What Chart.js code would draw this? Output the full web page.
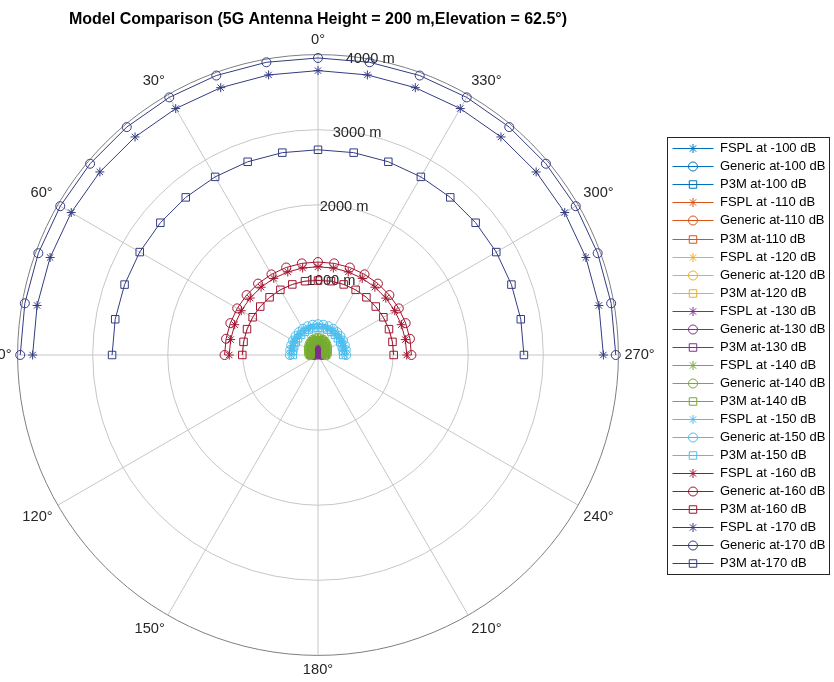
<!DOCTYPE html>
<html>
<head>
<meta charset="utf-8">
<title>Model Comparison</title>
<script src="https://cdn.jsdelivr.net/npm/chart.js"></script>
<style>
  html, body { margin: 0; padding: 0; background: #fff; overflow: hidden; }
  #wrap { position: relative; width: 834px; height: 682px; overflow: hidden; }
  /* canvas pushed left so the 90° label gets clipped like in the original */
  #polarChart { position: absolute; left: -60px; top: 0; }
</style>
</head>
<body>
<div id="wrap"><canvas id="polarChart" width="894" height="682"></canvas></div>
<script>
// angle categories, clockwise from the top (order the radial scale walks them)
const thetaDeg = [0, 350, 340, 330, 320, 310, 300, 290, 280, 270, 260, 250, 240, 230, 220, 210, 200, 190,
                  180, 170, 160, 150, 140, 130, 120, 110, 100, 90, 80, 70, 60, 50, 40, 30, 20, 10];
// azimuths that were computed (upper half only)
const sampleDeg = [90, 80, 70, 60, 50, 40, 30, 20, 10, 0, 350, 340, 330, 320, 310, 300, 290, 280, 270];

const levels = [-100, -110, -120, -130, -140, -150, -160, -170];
const levelColors = ['#0072BD', '#D95319', '#EDB120', '#7E2F8E', '#77AC30', '#4DBEEE', '#A2142F', '#343C82'];

// distance (m) per level, one row per level, columns follow sampleDeg
const fsplDist = [
  [1.2, 1.2, 1.2, 1.3, 1.3, 1.4, 1.5, 1.6, 1.7, 1.7, 1.7, 1.6, 1.5, 1.4, 1.3, 1.3, 1.2, 1.2, 1.2],
  [3.8, 3.8, 3.9, 4.1, 4.3, 4.6, 4.9, 5.2, 5.4, 5.5, 5.4, 5.2, 4.9, 4.6, 4.3, 4.1, 3.9, 3.8, 3.8],
  [14, 14, 15, 16, 18, 20, 23, 25, 27, 28, 27, 25, 23, 20, 18, 16, 15, 14, 14],
  [48, 50, 54, 61, 71, 83, 96, 108, 116, 120, 116, 108, 96, 83, 71, 61, 54, 50, 48],
  [105, 108, 116, 128, 145, 165, 185, 200, 210, 214, 210, 200, 185, 165, 145, 128, 116, 108, 105],
  [356, 357, 359, 362, 366, 371, 376, 380, 383, 384, 383, 380, 376, 371, 366, 362, 359, 357, 356],
  [1182, 1181, 1180, 1180, 1179, 1179, 1178, 1177, 1176, 1175, 1176, 1177, 1178, 1179, 1179, 1180, 1180, 1181, 1182],
  [3800, 3798, 3796, 3794, 3792, 3790, 3789, 3788, 3787, 3787, 3787, 3788, 3789, 3790, 3792, 3794, 3796, 3798, 3800]
];
const genericDist = [
  [1.3, 1.3, 1.4, 1.4, 1.5, 1.6, 1.7, 1.8, 1.9, 1.9, 1.9, 1.8, 1.7, 1.6, 1.5, 1.4, 1.4, 1.3, 1.3],
  [4.2, 4.2, 4.3, 4.5, 4.8, 5.1, 5.5, 5.8, 6.0, 6.0, 6.0, 5.8, 5.5, 5.1, 4.8, 4.5, 4.3, 4.2, 4.2],
  [15, 16, 17, 18, 20, 23, 25, 28, 29, 30, 29, 28, 25, 23, 20, 18, 17, 16, 15],
  [55, 57, 61, 68, 78, 91, 105, 117, 125, 130, 125, 117, 105, 91, 78, 68, 61, 57, 55],
  [115, 118, 127, 140, 158, 178, 198, 214, 224, 230, 224, 214, 198, 178, 158, 140, 127, 118, 115],
  [375, 376, 379, 384, 390, 397, 403, 407, 409, 410, 409, 407, 403, 397, 390, 384, 379, 376, 375],
  [1244, 1243, 1242, 1242, 1241, 1241, 1240, 1240, 1239, 1238, 1239, 1240, 1240, 1241, 1241, 1242, 1242, 1243, 1244],
  [3965, 3964, 3963, 3963, 3962, 3962, 3961, 3960, 3958, 3955, 3958, 3960, 3961, 3962, 3962, 3963, 3963, 3964, 3965]
];
const p3mDist = [
  [2.2, 2.2, 2.3, 2.4, 2.5, 2.7, 2.9, 3.0, 3.1, 3.2, 3.1, 3.0, 2.9, 2.7, 2.5, 2.4, 2.3, 2.2, 2.2],
  [6.0, 6.1, 6.3, 6.6, 7.0, 7.5, 8.0, 8.4, 8.7, 8.8, 8.7, 8.4, 8.0, 7.5, 7.0, 6.6, 6.3, 6.1, 6.0],
  [17, 17, 18, 20, 22, 25, 28, 30, 32, 33, 32, 30, 28, 25, 22, 20, 18, 17, 17],
  [45, 47, 51, 57, 66, 77, 90, 101, 108, 112, 108, 101, 90, 77, 66, 57, 51, 47, 45],
  [100, 103, 110, 122, 138, 156, 175, 190, 198, 202, 198, 190, 175, 156, 138, 122, 110, 103, 100],
  [335, 336, 338, 342, 346, 351, 356, 360, 362, 363, 362, 360, 356, 351, 346, 342, 338, 336, 335],
  [1008, 1007, 1006, 1005, 1004, 1003, 1002, 1000, 998, 992, 998, 1000, 1002, 1003, 1004, 1005, 1006, 1007, 1008],
  [2742, 2742, 2741, 2741, 2740, 2740, 2739, 2738, 2736, 2733, 2736, 2738, 2739, 2740, 2740, 2741, 2741, 2742, 2742]
];

const fontFamily = '"Liberation Sans", Arial, Helvetica, sans-serif';
Chart.defaults.font.family = fontFamily;

// put each sample on its angle category, nothing on the lower half
function toRadar(vals) {
  return thetaDeg.map(a => {
    const k = sampleDeg.indexOf(a);
    return k < 0 ? null : vals[k];
  });
}

const models = [
  { prefix: 'FSPL at ', dist: fsplDist, style: 'star', radius: 4.5 },
  { prefix: 'Generic at', dist: genericDist, style: 'circle', radius: 4.5 },
  { prefix: 'P3M at', dist: p3mDist, style: 'rect', radius: 5.3 }
];

const datasets = [];
levels.forEach((lvl, li) => {
  models.forEach(m => {
    const col = levelColors[li];
    datasets.push({
      label: m.prefix + lvl + ' dB',
      data: toRadar(m.dist[li]),
      borderColor: col,
      backgroundColor: 'rgba(0,0,0,0)',
      borderWidth: 1,
      fill: false,
      pointStyle: m.style,
      pointRadius: m.radius,
      pointHoverRadius: m.radius,
      pointBorderWidth: 1,
      pointBorderColor: col,
      pointBackgroundColor: 'rgba(0,0,0,0)',
      order: -datasets.length   // later series on top, like matlab
    });
  });
});

// r tick labels along the 350° spoke (under the data) + the boxed legend on the right
const polarExtras = {
  id: 'polarExtras',
  beforeDatasetsDraw(chart) {
    const scale = chart.scales.r;
    const ctx = chart.ctx;
    ctx.save();
    ctx.font = '14.67px ' + fontFamily;
    ctx.fillStyle = '#262626';
    ctx.textAlign = 'center';
    ctx.textBaseline = 'middle';
    scale.ticks.forEach(t => {
      const p = scale.getPointPosition(1, scale.getDistanceFromCenterForValue(t.value));
      ctx.fillText(t.label, p.x, p.y);
    });
    ctx.restore();
  },
  afterDraw(chart) {
    const ctx = chart.ctx;
    const x0 = 727.5, y0 = 137.5, w = 162, h = 437;
    ctx.save();
    ctx.fillStyle = '#fff';
    ctx.fillRect(x0, y0, w, h);
    ctx.strokeStyle = '#262626';
    ctx.lineWidth = 1;
    ctx.strokeRect(x0, y0, w, h);
    ctx.font = '13px ' + fontFamily;
    ctx.textAlign = 'left';
    ctx.textBaseline = 'middle';
    chart.data.datasets.forEach((ds, i) => {
      const y = Math.round(y0 + 10.8 + i * 18.04) + 0.5;
      ctx.strokeStyle = ds.borderColor;
      ctx.lineWidth = 1;
      ctx.beginPath();
      ctx.moveTo(x0 + 5, y);
      ctx.lineTo(x0 + 46, y);
      ctx.stroke();
      ctx.fillStyle = 'rgba(0,0,0,0)';
      Chart.helpers.drawPoint(ctx, { pointStyle: ds.pointStyle, radius: ds.pointRadius, rotation: 0, borderWidth: 1 }, x0 + 25.5, y);
      ctx.fillStyle = '#000';
      ctx.fillText(ds.label, x0 + 52.5, y);
    });
    ctx.restore();
  }
};

const ctx = document.getElementById('polarChart');
new Chart(ctx, {
  type: 'radar',
  data: { labels: thetaDeg, datasets: datasets },
  options: {
    responsive: false,
    animation: false,
    events: [],
    spanGaps: false,
    elements: { line: { tension: 0 } },
    layout: { padding: { left: 0, right: 138, top: 0, bottom: 2 } },
    plugins: {
      legend: { display: false },
      tooltip: { enabled: false },
      title: {
        display: true,
        fullSize: false,
        text: 'Model Comparison (5G Antenna Height = 200 m,Elevation = 62.5°)',
        color: '#000',
        font: { size: 16, weight: 'bold', family: fontFamily },
        padding: { top: 10, bottom: 2.8 }
      }
    },
    scales: {
      r: {
        min: 0,
        max: 4000,
        ticks: { display: false, stepSize: 1000, callback: v => v + ' m' },
        grid: {
          circular: true,
          lineWidth: 1,
          color: c => (c.tick && c.tick.value === 4000) ? '#7f7f7f' : '#c6c6c6'
        },
        angleLines: {
          color: '#c6c6c6',
          lineWidth: c => (c.index % 3 === 0 ? 1 : 0)
        },
        pointLabels: {
          padding: 6,
          color: '#262626',
          font: { size: 14.67, family: fontFamily },
          callback: v => (v % 30 === 0 ? v + '°' : '')
        }
      }
    }
  },
  plugins: [polarExtras]
});
</script>
</body>
</html>
